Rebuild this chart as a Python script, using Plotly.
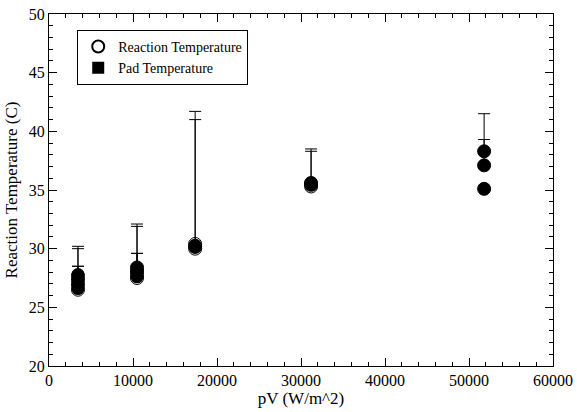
import plotly.graph_objects as go

# Data
pv = [3450, 3450, 3450, 3450,
      10480, 10480, 10480, 10480,
      17400, 17400, 17400,
      31200, 31200, 31200,
      51800, 51800, 51800]
reaction_temp = [26.5, 26.9, 27.3, 27.7,
                 27.5, 27.8, 28.1, 28.4,
                 30.0, 30.2, 30.4,
                 35.3, 35.5, 35.6,
                 35.1, 37.1, 38.3]
reaction_err_top = [28.5, 28.5, 30.0, 30.2,
                    29.6, 29.6, 31.9, 32.1,
                    30.0, 41.0, 41.7,
                    35.3, 38.3, 38.5,
                    35.1, 39.3, 41.5]
pad_temp = [26.6, 27.0, 27.4, 27.8,
            27.6, 27.9, 28.2, 28.4,
            30.1, 30.2, 30.3,
            35.4, 35.5, 35.6,
            35.1, 37.1, 38.3]

err_plus = [t - v for t, v in zip(reaction_err_top, reaction_temp)]

font_family = "Liberation Serif, Times New Roman, serif"

fig = go.Figure()

fig.add_trace(go.Scatter(
    x=pv, y=pad_temp, mode="markers", name="Pad Temperature",
    marker=dict(symbol="circle", size=13, color="black"),
    showlegend=False,
))
fig.add_trace(go.Scatter(
    x=pv, y=reaction_temp, mode="markers", name="Reaction Temperature",
    marker=dict(symbol="circle-open", size=13, color="black", line=dict(width=1)),
    error_y=dict(type="data", array=err_plus, arrayminus=[0] * len(err_plus),
                 symmetric=False, color="black", thickness=1, width=6),
))
# legend-only entry for the pad series (square symbol)
fig.add_trace(go.Scatter(
    x=[None], y=[None], mode="markers", name="Pad Temperature",
    marker=dict(symbol="square", size=9, color="black"),
))

axis_common = dict(
    showgrid=False, zeroline=False, showline=True, linecolor="black", linewidth=1,
    mirror="ticks", ticks="inside", ticklen=8, tickwidth=1, tickcolor="black",
    tickfont=dict(family=font_family, size=16, color="black"),
    automargin=False,
)

fig.update_xaxes(
    range=[0, 60000], dtick=10000, tick0=0, tickformat="d",
    minor=dict(dtick=2000, ticks="inside", ticklen=4, tickcolor="black", showgrid=False),
    title=dict(text="pV (W/m^2)", font=dict(family=font_family, size=17, color="black"), standoff=0),
    **axis_common,
)
fig.update_yaxes(
    range=[20, 50], dtick=5, tick0=20,
    minor=dict(dtick=1, ticks="inside", ticklen=4, tickcolor="black", showgrid=False),
    title=dict(text="Reaction Temperature (C)", font=dict(family=font_family, size=17, color="black"), standoff=6),
    **axis_common,
)

fig.update_layout(
    width=577, height=412,
    margin=dict(l=49, r=24, t=14, b=46),
    plot_bgcolor="white", paper_bgcolor="white",
    font=dict(family=font_family, color="black"),
    legend=dict(
        x=0.056, y=0.955, xanchor="left", yanchor="top",
        bordercolor="black", borderwidth=1, bgcolor="white",
        font=dict(family=font_family, size=14, color="black"),
        tracegroupgap=0, itemsizing="constant",
    ),
)

fig.write_html(
    "out.html",
    config={"displayModeBar": False},
    post_script="document.body.style.margin='0';document.body.style.overflow='hidden';",
)
